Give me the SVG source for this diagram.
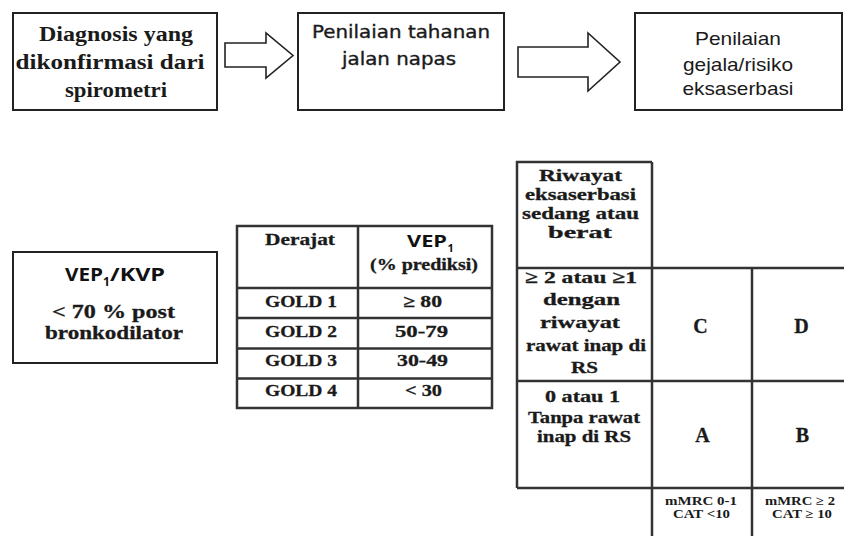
<svg xmlns="http://www.w3.org/2000/svg" width="844" height="536" viewBox="0 0 844 536">
<style>
.bx{fill:#fff;stroke:#222;stroke-width:2}
.tl{stroke:#333;stroke-width:2.5;fill:none}
.ar{fill:#fff;stroke:#222;stroke-width:1.6;stroke-linejoin:miter}
.sb{font-family:"Liberation Serif","Times New Roman",serif;font-weight:bold;fill:#1a1a1a;text-anchor:middle}
.ss{font-family:"DejaVu Sans","Liberation Sans",sans-serif;fill:#1a1a1a;stroke:#1a1a1a;stroke-width:0.35;text-anchor:middle}
.sa{font-family:"Liberation Sans",Arial,sans-serif;fill:#1a1a1a;text-anchor:middle}
.cb{font-family:"Open Sans","Liberation Sans",sans-serif;font-weight:bold;fill:#111}
.hv{stroke:#1a1a1a;stroke-width:0.3}
</style>
<rect width="844" height="536" fill="#fff"/>

<g id="connectors">
<polygon class="ar" points="225,43 266,43 266,33 293,55.5 266,78 266,67 225,67"/>
<polygon class="ar" points="518,47 588,47 588,33 620,62 588,91 588,77 518,77"/>
</g>

<g id="node-diagnosis">
<rect class="bx" x="13" y="13" width="204" height="97"/>
<text class="sb" font-size="20" x="116" y="41" textLength="154" lengthAdjust="spacingAndGlyphs">Diagnosis yang</text>
<text class="sb" font-size="20" x="110" y="69" textLength="189" lengthAdjust="spacingAndGlyphs">dikonfirmasi  dari</text>
<text class="sb" font-size="20" x="116" y="97" textLength="102" lengthAdjust="spacingAndGlyphs">spirometri</text>
</g>

<g id="node-tahanan">
<rect class="bx" x="298" y="13" width="206" height="97"/>
<text class="ss" font-size="17.5" x="401" y="38" textLength="178" lengthAdjust="spacingAndGlyphs">Penilaian tahanan</text>
<text class="ss" font-size="17.5" x="399" y="65" textLength="114" lengthAdjust="spacingAndGlyphs">jalan napas</text>
</g>

<g id="node-gejala">
<rect class="bx" x="635" y="13" width="207" height="97"/>
<text class="sa" font-size="19" x="738" y="45" textLength="86" lengthAdjust="spacingAndGlyphs">Penilaian</text>
<text class="sa" font-size="19" x="738" y="71" textLength="110" lengthAdjust="spacingAndGlyphs">gejala/risiko</text>
<text class="sa" font-size="19" x="738" y="95" textLength="111" lengthAdjust="spacingAndGlyphs">eksaserbasi</text>
</g>

<g id="node-vep">
<rect class="bx" x="13" y="252" width="204" height="111"/>
<text class="cb" font-size="18" x="65" y="281" textLength="38" lengthAdjust="spacingAndGlyphs">VEP</text>
<text class="cb" font-size="12" x="103" y="286">1</text>
<text class="cb" font-size="18" x="110" y="281" textLength="55" lengthAdjust="spacingAndGlyphs">/KVP</text>
<text class="sb hv" font-size="19" x="113.5" y="318" textLength="123" lengthAdjust="spacingAndGlyphs">&lt; 70 % post</text>
<text class="sb hv" font-size="19" x="114" y="339" textLength="138" lengthAdjust="spacingAndGlyphs">bronkodilator</text>
</g>

<g id="node-gold-table">
<rect class="tl" x="237" y="226" width="255" height="182"/>
<line class="tl" x1="358" y1="226" x2="358" y2="408"/>
<line class="tl" x1="237" y1="288" x2="492" y2="288"/>
<line class="tl" x1="237" y1="318" x2="492" y2="318"/>
<line class="tl" x1="237" y1="348.5" x2="492" y2="348.5"/>
<line class="tl" x1="237" y1="378.5" x2="492" y2="378.5"/>
<text class="sb hv" font-size="17" x="300" y="245" textLength="70" lengthAdjust="spacingAndGlyphs">Derajat</text>
<text class="cb" font-size="16" x="407" y="247" textLength="40" lengthAdjust="spacingAndGlyphs">VEP</text>
<text class="cb" font-size="11" x="447.5" y="252">1</text>
<text class="sb hv" font-size="17" x="424" y="270" textLength="108" lengthAdjust="spacingAndGlyphs">(% prediksi)</text>
<text class="sb hv" font-size="17" x="301" y="307" textLength="72" lengthAdjust="spacingAndGlyphs">GOLD 1</text>
<text class="sb hv" font-size="17" x="301" y="337" textLength="72" lengthAdjust="spacingAndGlyphs">GOLD 2</text>
<text class="sb hv" font-size="17" x="301" y="366" textLength="72" lengthAdjust="spacingAndGlyphs">GOLD 3</text>
<text class="sb hv" font-size="17" x="301" y="396" textLength="72" lengthAdjust="spacingAndGlyphs">GOLD 4</text>
<text class="sb hv" font-size="17" x="422.5" y="307" textLength="39" lengthAdjust="spacingAndGlyphs">≥ 80</text>
<text class="sb hv" font-size="17" x="421.5" y="337" textLength="53" lengthAdjust="spacingAndGlyphs">50-79</text>
<text class="sb hv" font-size="17" x="422.5" y="366" textLength="51" lengthAdjust="spacingAndGlyphs">30-49</text>
<text class="sb hv" font-size="17" x="423.5" y="396" textLength="37" lengthAdjust="spacingAndGlyphs">&lt; 30</text>
</g>

<g id="node-risk-matrix">
<polyline class="tl" points="652,162 517,162 517,488"/>
<line class="tl" x1="652" y1="162" x2="652" y2="536"/>
<line class="tl" x1="752" y1="268" x2="752" y2="536"/>
<line class="tl" x1="517" y1="268" x2="844" y2="268"/>
<line class="tl" x1="517" y1="381" x2="844" y2="381"/>
<line class="tl" x1="517" y1="488" x2="844" y2="488"/>
<text class="sb hv" font-size="17.5" x="580.5" y="181" textLength="83" lengthAdjust="spacingAndGlyphs">Riwayat</text>
<text class="sb hv" font-size="17.5" x="580.5" y="200" textLength="111" lengthAdjust="spacingAndGlyphs">eksaserbasi</text>
<text class="sb hv" font-size="17.5" x="580.5" y="219" textLength="117" lengthAdjust="spacingAndGlyphs">sedang atau</text>
<text class="sb hv" font-size="17.5" x="580" y="238" textLength="64" lengthAdjust="spacingAndGlyphs">berat</text>
<text class="sb hv" font-size="17.5" x="581" y="283" textLength="112" lengthAdjust="spacingAndGlyphs">≥ 2 atau ≥1</text>
<text class="sb hv" font-size="17.5" x="581.5" y="305" textLength="77" lengthAdjust="spacingAndGlyphs">dengan</text>
<text class="sb hv" font-size="17.5" x="580" y="328" textLength="80" lengthAdjust="spacingAndGlyphs">riwayat</text>
<text class="sb hv" font-size="17.5" x="586" y="351" textLength="120" lengthAdjust="spacingAndGlyphs">rawat inap di</text>
<text class="sb hv" font-size="17.5" x="584.5" y="373" textLength="27" lengthAdjust="spacingAndGlyphs">RS</text>
<text class="sb hv" font-size="17.5" x="582.5" y="402" textLength="75" lengthAdjust="spacingAndGlyphs">0 atau 1</text>
<text class="sb hv" font-size="17.5" x="584" y="423" textLength="112" lengthAdjust="spacingAndGlyphs">Tanpa rawat</text>
<text class="sb hv" font-size="17.5" x="584" y="442" textLength="94" lengthAdjust="spacingAndGlyphs">inap di RS</text>
<text class="sb hv" font-size="20" x="700.5" y="333">C</text>
<text class="sb hv" font-size="20" x="801.5" y="333">D</text>
<text class="sb hv" font-size="20" x="702.5" y="442">A</text>
<text class="sb hv" font-size="20" x="802.5" y="442">B</text>
<text class="sb" font-size="12.5" x="701" y="505" textLength="72" lengthAdjust="spacingAndGlyphs">mMRC 0-1</text>
<text class="sb" font-size="12.5" x="701.5" y="518" textLength="57" lengthAdjust="spacingAndGlyphs">CAT &lt;10</text>
<text class="sb" font-size="12.5" x="800" y="505" textLength="70" lengthAdjust="spacingAndGlyphs">mMRC ≥ 2</text>
<text class="sb" font-size="12.5" x="802" y="518" textLength="60" lengthAdjust="spacingAndGlyphs">CAT ≥ 10</text>
</g>
</svg>
